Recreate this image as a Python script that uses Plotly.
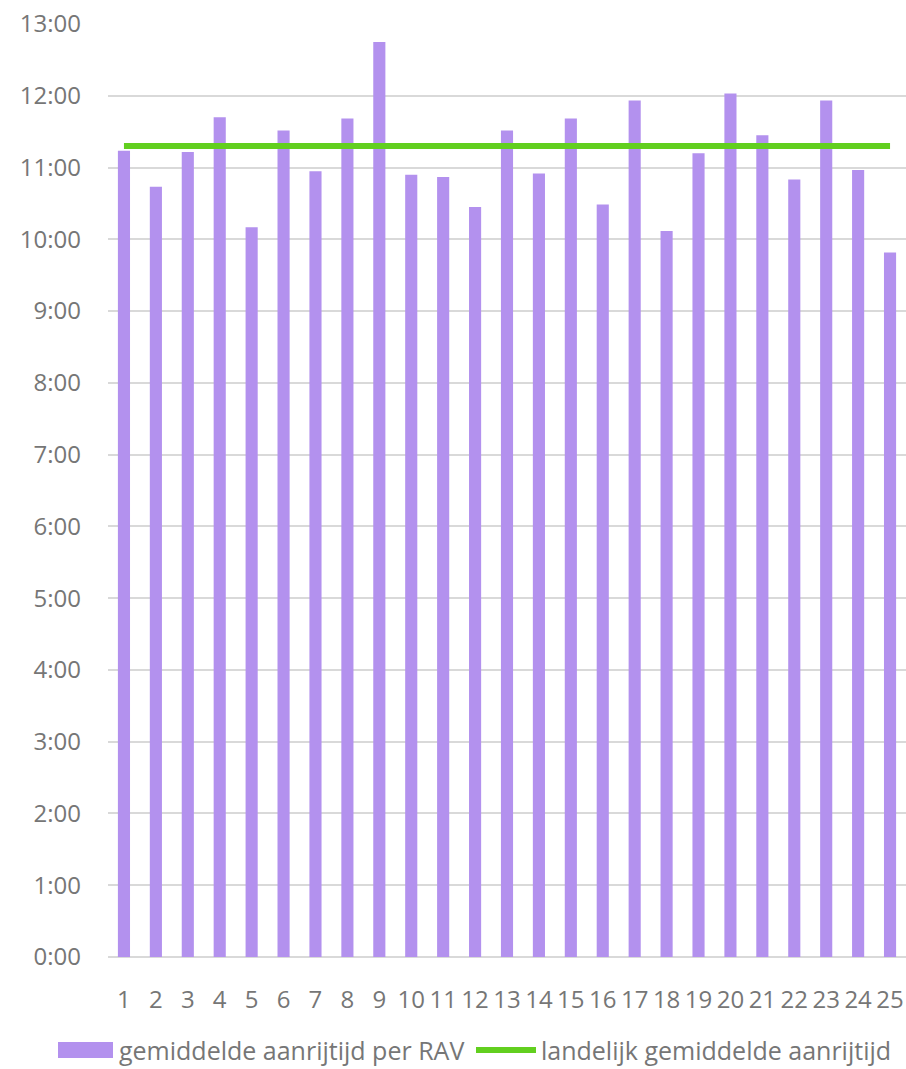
import plotly.graph_objects as go

# ---- data ----
rav_ids = [str(i) for i in range(1, 26)]
avg_time_per_rav = ["11:14", "10:44", "11:13", "11:42", "10:10", "11:31", "10:57", "11:41", "12:45",
                    "10:54", "10:52", "10:27", "11:31", "10:55", "11:41", "10:29", "11:56", "10:07",
                    "11:12", "12:02", "11:27", "10:50", "11:56", "10:58", "9:49"]
national_avg = "11:18"
y_tick_vals = list(range(0, 14))
y_tick_text = ["0:00", "1:00", "2:00", "3:00", "4:00", "5:00", "6:00", "7:00", "8:00", "9:00",
               "10:00", "11:00", "12:00", "13:00"]
series_names = ["gemiddelde aanrijtijd per RAV", "landelijk gemiddelde aanrijtijd"]


def to_minutes(s):
    m, sec = s.split(":")
    return int(m) + int(sec) / 60.0


bar_vals = [to_minutes(v) for v in avg_time_per_rav]
nat_vals = [to_minutes(national_avg)] * len(rav_ids)

PURPLE = "#B391EE"
GREEN = "#62CF1F"
TEXT = "#767676"
GRID = "#D9D9D9"
FONT = "Open Sans"

W, H = 906, 1069
ML, MR, MT, MB = 108, 0, 24, 112
PW, PH = W - ML - MR, H - MT - MB

fig = go.Figure()
fig.add_trace(go.Bar(x=rav_ids, y=bar_vals, name=series_names[0], marker_color=PURPLE,
                     marker_line_width=0, showlegend=False))
fig.add_trace(go.Scatter(x=rav_ids, y=nat_vals, name=series_names[1], mode="lines",
                         line=dict(color=GREEN, width=6), showlegend=False))


def px(xp):
    return (xp - ML) / PW


def py(yp):
    return (H - MB - yp) / PH


leg_y = 1050
shapes = [
    dict(type="rect", xref="paper", yref="paper", x0=px(58), x1=px(113), y0=py(1058), y1=py(1042),
         fillcolor=PURPLE, line_width=0),
    dict(type="line", xref="paper", yref="paper", x0=px(476), x1=px(536), y0=py(leg_y), y1=py(leg_y),
         line=dict(color=GREEN, width=6)),
]
annotations = [
    dict(xref="paper", yref="paper", x=px(117), y=py(leg_y), text=series_names[0], showarrow=False,
         xanchor="left", yanchor="middle", font=dict(family=FONT, size=25, color=TEXT)),
    dict(xref="paper", yref="paper", x=px(539), y=py(leg_y), text=series_names[1], showarrow=False,
         xanchor="left", yanchor="middle", font=dict(family=FONT, size=25, color=TEXT)),
]

fig.update_layout(
    width=W, height=H,
    margin=dict(l=ML, r=MR, t=MT, b=MB, pad=0),
    paper_bgcolor="white", plot_bgcolor="white",
    bargap=0.62,
    font=dict(family=FONT, color=TEXT, size=24),
    shapes=shapes, annotations=annotations,
    showlegend=False,
)
fig.update_xaxes(type="category", tickangle=0, showgrid=False, showline=False, ticks="",
                 tickfont=dict(family=FONT, size=24, color=TEXT), ticklabelstandoff=26)
fig.update_yaxes(range=[0, 13], tickvals=y_tick_vals, ticktext=y_tick_text, showgrid=True,
                 gridcolor=GRID, gridwidth=1.5, zeroline=True, zerolinecolor=GRID, zerolinewidth=1.5,
                 showline=False, ticks="", tickfont=dict(family=FONT, size=24, color=TEXT),
                 ticklabelstandoff=26)

fig.write_html("out.html", config={"displayModeBar": False},
               post_script="document.body.style.margin='0';document.body.style.overflow='hidden';")
